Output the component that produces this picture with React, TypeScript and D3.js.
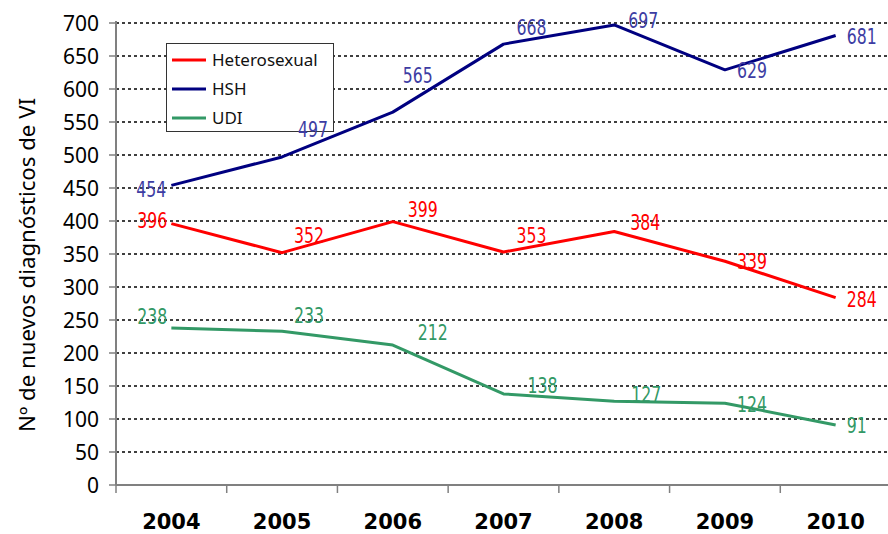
import React from 'react';
import * as d3 from 'd3';

const years = ['2004', '2005', '2006', '2007', '2008', '2009', '2010'];
const hetero = [396, 352, 399, 353, 384, 339, 284];
const hsh = [454, 497, 565, 668, 697, 629, 681];
const udi = [238, 233, 212, 138, 127, 124, 91];
const yTicks = [0, 50, 100, 150, 200, 250, 300, 350, 400, 450, 500, 550, 600, 650, 700];

// label placement relative to the point: [dx, dy, anchor]
const hshPos: [number, number, string][] = [[-5, 12, 'end'], [16, -20, 'start'], [10, -29, 'start'], [13, -9, 'start'], [14, 3, 'start'], [12, 8, 'start'], [11, 8, 'start']];
const hetPos: [number, number, string][] = [[-4, 4, 'end'], [12, -10, 'start'], [15, -5, 'start'], [13, -9, 'start'], [16, -2, 'start'], [12, 8, 'start'], [11, 9, 'start']];
const udiPos: [number, number, string][] = [[-4, -4, 'end'], [12, -8, 'start'], [25, -5, 'start'], [24, -1, 'start'], [17, 1, 'start'], [12, 9, 'start'], [11, 8, 'start']];

const series = [
  { name: 'Heterosexual', values: hetero, line: '#ff0000', label: '#ff0000', pos: hetPos },
  { name: 'HSH', values: hsh, line: '#000080', label: '#3d3da3', pos: hshPos },
  { name: 'UDI', values: udi, line: '#339966', label: '#339966', pos: udiPos },
];

const W = 888, H = 534;
const left = 116, bottom = 485, top = 23;

export default function App() {
  const x = d3.scaleBand().domain(years).range([left, 891]).padding(0);
  const cx = (d: string) => (x(d) as number) + x.bandwidth() / 2;
  const y = d3.scaleLinear().domain([0, 700]).range([bottom, top]);
  const line = d3.line<number>().x((_, i) => cx(years[i])).y(v => y(v));
  const labelFont = '"DejaVu Sans Condensed", "Liberation Sans Narrow", sans-serif';

  return (
    <svg width={W} height={H} style={{ position: 'absolute', left: 0, top: 0, background: '#fff' }}>
      {/* gridlines */}
      {yTicks.filter(t => t > 0).map(t => (
        <line key={'g' + t} x1={left} x2={W} y1={y(t)} y2={y(t)} stroke="#000" strokeWidth={1.6} strokeDasharray="3,3" />
      ))}
      {/* y axis */}
      <line x1={left} x2={left} y1={top - 2} y2={bottom} stroke="#808080" strokeWidth={2} />
      {yTicks.map(t => (
        <g key={'y' + t}>
          <line x1={left - 7} x2={left} y1={y(t)} y2={y(t)} stroke="#808080" strokeWidth={1.5} />
          <text x={99} y={y(t)} dy="0.36em" textAnchor="end" fontFamily='"Noto Sans", sans-serif' fontSize={21} fill="#000">{t}</text>
        </g>
      ))}
      {/* x axis */}
      <line x1={left} x2={W} y1={bottom} y2={bottom} stroke="#808080" strokeWidth={2} />
      {years.map(d => (
        <g key={'x' + d}>
          <line x1={x(d) as number} x2={x(d) as number} y1={bottom} y2={bottom + 8} stroke="#808080" strokeWidth={1.5} />
          <text x={cx(d)} y={529} textAnchor="middle" fontFamily='"DejaVu Sans", sans-serif' fontWeight="bold" fontSize={21} fill="#000">{d}</text>
        </g>
      ))}
      <text transform="translate(35,265) rotate(-90)" textAnchor="middle" fontFamily='"Noto Sans", sans-serif' fontSize={21}
        textLength={334} lengthAdjust="spacingAndGlyphs" fill="#000">Nº de nuevos diagnósticos de VI</text>

      {/* lines */}
      {series.map(s => (
        <path key={'l' + s.name} d={line(s.values) as string} fill="none" stroke={s.line} strokeWidth={3} strokeLinejoin="round" />
      ))}

      {/* legend */}
      <g>
        <rect x={166.5} y={43.5} width={167} height={88} fill="#fff" stroke="#333" strokeWidth={1} />
        {series.map((s, i) => (
          <g key={'lg' + s.name} transform={`translate(0,${60 + i * 29})`}>
            <line x1={172} x2={206} y1={0} y2={0} stroke={s.line} strokeWidth={3} />
            <text x={212} y={0} dy="0.36em" fontFamily='"Noto Sans", sans-serif' fontSize={17} fill="#111">{s.name}</text>
          </g>
        ))}
      </g>

      {/* data labels */}
      {series.map(s => s.values.map((v, i) => (
        <text key={'t' + s.name + i} x={cx(years[i]) + s.pos[i][0]} y={y(v) + s.pos[i][1]}
          textAnchor={s.pos[i][2] as any} fontFamily={labelFont} fontSize={21}
          textLength={String(v).length * 10} lengthAdjust="spacingAndGlyphs" fill={s.label}>{v}</text>
      )))}
    </svg>
  );
}
